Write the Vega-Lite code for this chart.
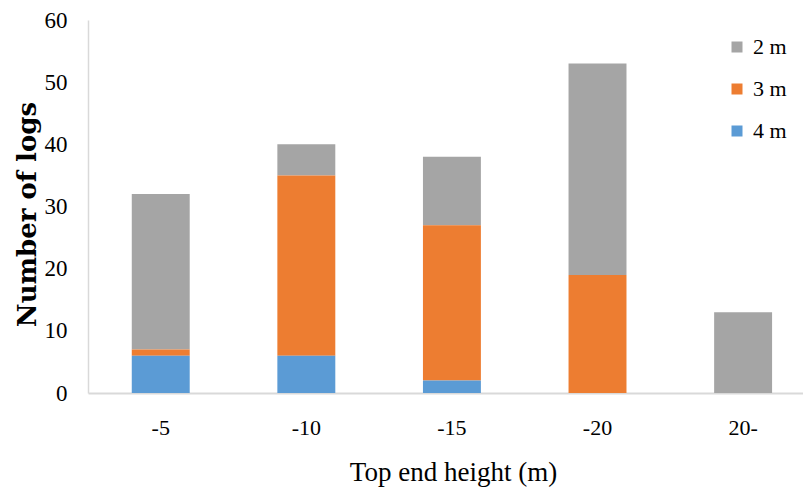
{
  "$schema": "https://vega.github.io/schema/vega-lite/v6.json",
  "autosize": {"type": "none"},
  "padding": {"left": 88, "top": 20, "right": 0, "bottom": 97},
  "width": 715,
  "height": 373,
  "background": "white",
  "config": {
    "view": {"stroke": null},
    "font": "Liberation Serif"
  },
  "data": {
    "values": [
      {"height": "-5", "size": "2 m", "count": 25},
      {"height": "-5", "size": "3 m", "count": 1},
      {"height": "-5", "size": "4 m", "count": 6},
      {"height": "-10", "size": "2 m", "count": 5},
      {"height": "-10", "size": "3 m", "count": 29},
      {"height": "-10", "size": "4 m", "count": 6},
      {"height": "-15", "size": "2 m", "count": 11},
      {"height": "-15", "size": "3 m", "count": 25},
      {"height": "-15", "size": "4 m", "count": 2},
      {"height": "-20", "size": "2 m", "count": 34},
      {"height": "-20", "size": "3 m", "count": 19},
      {"height": "-20", "size": "4 m", "count": 0},
      {"height": "20-", "size": "2 m", "count": 13},
      {"height": "20-", "size": "3 m", "count": 0},
      {"height": "20-", "size": "4 m", "count": 0}
    ]
  },
  "mark": {"type": "bar"},
  "encoding": {
    "x": {
      "field": "height",
      "type": "nominal",
      "sort": null,
      "scale": {"paddingInner": 0.602, "paddingOuter": 0.2565, "align": 0.586},
      "axis": {
        "title": "Top end height (m)",
        "titleFont": "Liberation Serif",
        "titleFontSize": 27,
        "titleFontWeight": "normal",
        "titleColor": "#000000",
        "titleBaseline": "alphabetic",
        "titleAlign": "center",
        "titleX": 365,
        "titleY": 87,
        "labelAngle": 0,
        "labelFont": "Liberation Serif",
        "labelFontSize": 22,
        "labelColor": "#000000",
        "labelPadding": 24,
        "ticks": false,
        "tickSize": 0,
        "domainColor": "#d9d9d9",
        "domainWidth": 2,
        "grid": false
      }
    },
    "y": {
      "field": "count",
      "type": "quantitative",
      "aggregate": "sum",
      "stack": "zero",
      "scale": {"domain": [0, 60], "nice": false},
      "axis": {
        "title": "Number of logs",
        "titleFont": "DejaVu Serif",
        "titleFontSize": 26,
        "titleFontWeight": "bold",
        "titleColor": "#000000",
        "titleAngle": 270,
        "titleBaseline": "alphabetic",
        "titleAlign": "center",
        "titleX": -53,
        "titleY": 194,
        "values": [0, 10, 20, 30, 40, 50, 60],
        "labelFont": "Liberation Serif",
        "labelFontSize": 23,
        "labelColor": "#000000",
        "labelPadding": 21,
        "ticks": false,
        "tickSize": 0,
        "domainColor": "#d9d9d9",
        "domainWidth": 1.5,
        "grid": false
      }
    },
    "color": {
      "field": "size",
      "type": "nominal",
      "scale": {"domain": ["2 m", "3 m", "4 m"], "range": ["#A5A5A5", "#ED7D31", "#5B9BD5"]},
      "legend": {
        "title": null,
        "orient": "none",
        "legendX": 638,
        "legendY": 16,
        "padding": 0,
        "symbolType": "square",
        "symbolSize": 121,
        "symbolStrokeWidth": 0,
        "labelFont": "Liberation Serif",
        "labelFontSize": 22,
        "labelColor": "#000000",
        "labelOffset": 5,
        "rowPadding": 20
      }
    },
    "order": {"field": "size", "sort": "descending"}
  }
}
